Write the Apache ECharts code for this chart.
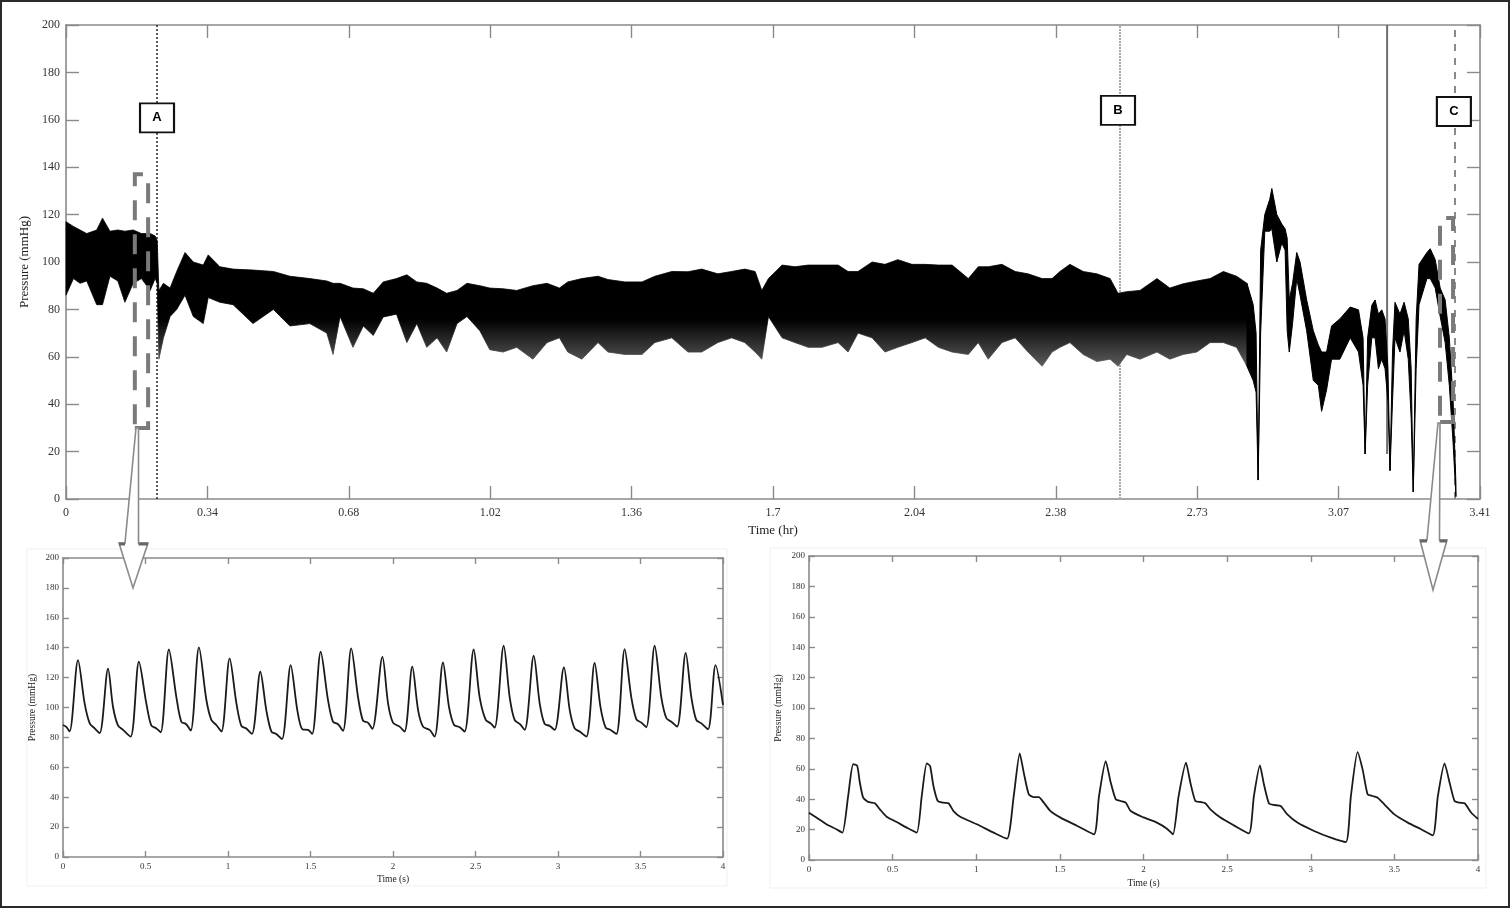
<!DOCTYPE html>
<html><head><meta charset="utf-8">
<script src="https://cdn.jsdelivr.net/npm/echarts@6/dist/echarts.min.js"></script>
<style>html,body{margin:0;padding:0;background:#fff}#c{width:1511px;height:909px}</style>
</head><body><div id="c"></div>
<script>
// ---------- DATA ----------
const HR_PER_TICK = 0.341; // top axis: hours per tick step
const topXLabels = ['0','0.34','0.68','1.02','1.36','1.7','2.04','2.38','2.73','3.07','3.41'];

// Top trace envelope (hours, upper edge, lower edge in mmHg)
const topTime = [0.000,0.018,0.034,0.050,0.074,0.088,0.106,0.125,0.142,0.162,0.182,0.203,0.215,0.220,0.224,0.235,0.251,0.267,0.287,0.307,0.331,0.343,0.371,0.403,0.451,0.500,0.540,0.588,0.629,0.644,0.661,0.692,0.717,0.741,0.765,0.797,0.822,0.846,0.870,0.895,0.918,0.943,0.967,0.998,1.022,1.054,1.087,1.126,1.160,1.190,1.210,1.244,1.283,1.307,1.348,1.389,1.420,1.461,1.500,1.533,1.572,1.605,1.637,1.662,1.678,1.694,1.727,1.758,1.790,1.823,1.862,1.886,1.910,1.944,1.975,2.006,2.040,2.072,2.104,2.137,2.176,2.200,2.224,2.257,2.289,2.320,2.354,2.378,2.397,2.421,2.453,2.486,2.518,2.537,2.558,2.590,2.631,2.662,2.694,2.727,2.759,2.791,2.823,2.848,2.863,2.870,2.875,2.881,2.891,2.903,2.908,2.920,2.932,2.940,2.945,2.950,2.958,2.968,2.976,2.992,3.008,3.020,3.028,3.040,3.052,3.072,3.097,3.117,3.128,3.133,3.139,3.149,3.157,3.165,3.173,3.181,3.188,3.193,3.199,3.205,3.217,3.227,3.237,3.244,3.249,3.256,3.263,3.282,3.290,3.302,3.314,3.326,3.336,3.345,3.352];
const topHigh = [117,115,113.5,112,113.5,118.5,113,113.5,113,113.5,112,112,111,109,88,91,89,96,104,100,98.7,103,98,97,96.6,96,94,93,92,91,91,89,88.7,86.8,91.6,93,94.6,91.6,91,89,86.8,88,91,90,89,88.7,88,90,91,89,91.6,93,94,92.6,91.6,91.6,94,96,95.9,97,95,96,97,96,88,93,98.7,98,98.7,98.7,98.7,96,96,100,99,101,99,99,98.7,98.7,93,98,98,99,96,95,93,93,96,99,96,95,93,86.8,87.5,88,93,89,90.8,92,93,96,94,91,82,70,8,105,120,126.5,131,120,116,114,110,84,91,104,100,84,71,65,62,62,73,76,81,79.8,68,19,68,81.7,84,78,79.8,76,55,12,62,83,78,83,76,55,3,76,99,104,105.6,101,89,84,68,42,6];
const topLow = [86,93,91,92,82,82,94,92,83,91,93,88,93,91,59,68,77,80,86,77,74,85,83,82,74,80,73,74,70,61,77,64,73,69,76.8,78,66,74,64,68,62,74,77,71,63,62,64,59,66,68,62,59,66,62,61,61,66,68,62,62,66,68,66,62,59,77,68,66,64,64,66,62,70,68,62,64,66,68,64,62,61,66,59,66,68,62,56,62,64,66,61,58,59,56,61,59,62,59,61,62,66,66,64,56,50,45,8,70,113,113,114,100,108,105,71,62,74,93,86,71,50,48,37,46,59,59,68,62,48,19,48,68,68,55,59,55,41,12,41,68,62,71,59,34,3,55,82,93,93,89,77,66,48,24,1];

// Isolated artifact spike (hours, from/to mmHg)
const artifactTime = 3.186;
const artifactRange = [200, 19];

// Event markers (hours)
const eventNames = ['A','B','C'];
const eventTimes = [0.2195, 2.539, 3.350];
const eventLabelY = [160.8, 164, 163.5];
const eventLabelT = [0.2195, 2.537, 3.347];

// Dashed selection windows [t0, t1, pLow, pHigh]
const windowA = [0.166, 0.198, 30, 137];
const windowC = [3.3135, 3.345, 32.5, 118.6];

// Lower-left inset (seconds, mmHg)
const leftTime = [0,0.02,0.04,0.091,0.131,0.162,0.192,0.222,0.273,0.303,0.333,0.364,0.41,0.46,0.505,0.535,0.566,0.592,0.642,0.687,0.717,0.747,0.774,0.824,0.869,0.899,0.929,0.96,1.01,1.051,1.081,1.111,1.145,1.196,1.232,1.263,1.293,1.327,1.38,1.42,1.451,1.485,1.51,1.562,1.606,1.636,1.667,1.697,1.747,1.788,1.818,1.848,1.875,1.936,1.97,2.0,2.04,2.07,2.117,2.152,2.182,2.222,2.252,2.303,2.339,2.37,2.404,2.434,2.489,2.525,2.562,2.592,2.616,2.671,2.707,2.737,2.768,2.798,2.853,2.889,2.919,2.949,2.98,3.036,3.071,3.101,3.131,3.172,3.222,3.257,3.289,3.319,3.354,3.404,3.444,3.475,3.505,3.535,3.586,3.626,3.657,3.687,3.722,3.774,3.808,3.838,3.869,3.909,3.955,4.0];
const leftVal = [88.3,87,84,131.7,102.8,89.4,86,82.8,126,100.5,88,85,80.5,130.6,102.8,88,86,83.4,138.8,107,90.5,88.8,84.5,140.2,105,91.7,88.3,83.9,132.8,102.8,87.7,85.9,82.3,123.9,98.3,83.9,82.3,78.8,128.4,98.3,85.4,85,82.3,137.3,105,90.5,88.8,84.3,139.5,107,91.2,89.9,85.7,133.9,102.8,89.9,87.2,83.9,127.3,98.3,87.2,85,80.5,130.1,100.6,88.3,86.8,83.9,138.8,107,91.7,89.4,86.5,141.3,107,91.7,89,85,134.6,102.8,89,87.7,85,126.8,98.3,86,83.9,80.5,129.9,100.6,86.5,85,82.3,139,107,92.1,89.9,86.8,141.3,107,92.8,90.5,87.2,136.6,107,91.7,89.4,85.4,128.4,101.7];

// Lower-right inset (seconds, mmHg)
const rightTime = [0,0.044,0.104,0.164,0.2,0.234,0.264,0.288,0.304,0.324,0.354,0.394,0.424,0.464,0.524,0.584,0.644,0.674,0.704,0.724,0.744,0.77,0.804,0.834,0.864,0.904,1.004,1.104,1.184,1.224,1.26,1.284,1.314,1.344,1.374,1.404,1.444,1.504,1.604,1.704,1.734,1.774,1.804,1.834,1.864,1.894,1.924,2.0,2.08,2.14,2.176,2.21,2.254,2.28,2.31,2.34,2.37,2.4,2.46,2.54,2.63,2.66,2.696,2.72,2.75,2.78,2.82,2.86,2.92,3.02,3.12,3.21,3.24,3.28,3.31,3.34,3.37,3.4,3.44,3.5,3.58,3.66,3.73,3.76,3.8,3.83,3.86,3.89,3.92,3.96,4.0];
const rightVal = [31.1,27.9,23.5,20.2,18,42,63,62,51,41,38.2,37.3,33.3,28.5,25,21.3,18,42,63.6,61.8,48.7,38.8,37.7,37.3,32.2,28.5,23.5,18,14,42,70.2,57.5,43.2,41.4,41.4,37.7,32.2,27.9,22.4,16.9,42,65.1,51,40,38.8,37.7,32.2,28,24.6,20.6,16.9,42,64,51,38.8,38.2,37.3,33.3,27.9,22.8,17.5,42,62.3,49.8,37.3,36.2,35.5,30,24.6,19.1,14.7,11.8,42,71,59.6,43.2,42.1,41,36.6,30,24.6,20.2,16.2,42,63.6,51,38.8,37.7,37.3,31.1,27];

const yTicks = [0,200,20];
const insetXTicks = [0,4,0.5];

// ---------- CHART ----------
const SERIF = "'Liberation Serif','DejaVu Serif',serif";
const SANS = "'Liberation Sans',Arial,sans-serif";
const AX = '#8a8a8a';
const chart = echarts.init(document.getElementById('c'), null, {renderer:'canvas'});

function axisPair(kind, gridIndex, min, max, interval, tickLen, fontSize, labelMargin, name, nameGap, nameSize, formatter) {
  const common = {gridIndex, type:'value', min, max, interval,
    splitLine:{show:false},
    axisLine:{show:true, onZero:false, lineStyle:{color:AX, width:1.6}},
    axisTick:{show:true, inside:true, length:tickLen, lineStyle:{color:AX, width:1.4}}};
  const main = Object.assign({}, common, {
    position: kind==='x' ? 'bottom' : 'left',
    axisLabel:{show:true, color:'#333', fontFamily:SERIF, fontSize, margin:labelMargin, formatter},
    name, nameLocation:'middle', nameGap,
    nameTextStyle:{color:'#222', fontFamily:SERIF, fontSize:nameSize}
  });
  const mirror = Object.assign({}, common, {
    position: kind==='x' ? 'top' : 'right', axisLabel:{show:false}
  });
  return [main, mirror];
}

const topX = axisPair('x',0,0,10,1,13,12,8,'Time (hr)',19,13,(v)=>topXLabels[Math.round(v)]);
const topY = axisPair('y',0,yTicks[0],yTicks[1],yTicks[2],13,12,6,'Pressure (mmHg)',33,13);
const lX = axisPair('x',1,insetXTicks[0],insetXTicks[1],insetXTicks[2],6,9,5,'Time (s)',17,9.5);
const lY = axisPair('y',1,yTicks[0],yTicks[1],yTicks[2],6,9,4,'Pressure (mmHg)',26,9.5);
const rX = axisPair('x',2,insetXTicks[0],insetXTicks[1],insetXTicks[2],6,9,5,'Time (s)',18,9.5);
const rY = axisPair('y',2,yTicks[0],yTicks[1],yTicks[2],6,9,4,'Pressure (mmHg)',26,9.5);

const bandData = topTime.map((t,i)=>[t/HR_PER_TICK, topHigh[i], topLow[i]]);
// index where the wide noisy band ends and the narrow, unstable part begins
const splitIdx = topTime.findIndex(t => t >= 2.848);

const dashStyle = {color:'rgba(0,0,0,0)', borderColor:'#7a7a7a', borderWidth:4, borderType:[20,14]};

function bandPolygon(api, from, to) {
  const pts = [];
  for (let i = from; i <= to; i++) pts.push(api.coord([bandData[i][0], bandData[i][1]]));
  for (let i = to; i >= from; i--) pts.push(api.coord([bandData[i][0], bandData[i][2]]));
  return pts;
}

const option = {
  animation:false,
  backgroundColor:'#fff',
  grid:[
    {left:66, top:25, width:1414, height:474},
    {left:63, top:558, width:660, height:299},
    {left:809, top:556, width:669, height:304}
  ],
  xAxis:[topX[0], topX[1], lX[0], lX[1], rX[0], rX[1]],
  yAxis:[topY[0], topY[1], lY[0], lY[1], rY[0], rY[1]],
  series:[
    {
      type:'custom', name:'trace', xAxisIndex:0, yAxisIndex:0, data:bandData,
      encode:{x:0, y:[1,2]}, silent:true, z:3,
      renderItem:function(params, api){
        if (params.dataIndex !== 0) return null;
        const yTop = api.coord([0, 76])[1];
        const yBot = api.coord([0, 56])[1];
        const grad = new echarts.graphic.LinearGradient(0, yTop, 0, yBot, [
          {offset:0, color:'#000'},{offset:1, color:'#5c5c5c'}], true);
        return {type:'group', children:[
          {type:'polygon', shape:{points:bandPolygon(api, 0, splitIdx)}, style:{fill:grad, stroke:grad, lineWidth:0.8}},
          {type:'polygon', shape:{points:bandPolygon(api, splitIdx, bandData.length-1)}, style:{fill:'#000', stroke:'#000', lineWidth:1}}
        ]};
      }
    },
    {
      type:'line', name:'artifact', xAxisIndex:0, yAxisIndex:0,
      data:artifactRange.map(v=>[artifactTime/HR_PER_TICK, v]),
      symbol:'none', lineStyle:{color:'#6e6e6e', width:2}, z:2, silent:true,
      markLine:{
        silent:true, symbol:['none','none'], label:{show:false}, z:1,
        data:[
          {xAxis:eventTimes[0]/HR_PER_TICK, lineStyle:{type:[2,2], color:'#333', width:1.6}},
          {xAxis:eventTimes[1]/HR_PER_TICK, lineStyle:{type:[2,1], color:'#a8a8a8', width:2}},
          {xAxis:eventTimes[2]/HR_PER_TICK, lineStyle:{type:[7,7], color:'#8a8a8a', width:2}}
        ]
      },
      markArea:{
        silent:true, z:4,
        data:[
          [{coord:[windowA[0]/HR_PER_TICK, windowA[2]], itemStyle:dashStyle},{coord:[windowA[1]/HR_PER_TICK, windowA[3]]}],
          [{coord:[windowC[0]/HR_PER_TICK, windowC[2]], itemStyle:dashStyle},{coord:[windowC[1]/HR_PER_TICK, windowC[3]]}]
        ]
      },
      markPoint:{
        silent:true, z:10, symbol:'rect', symbolSize:[34,29],
        itemStyle:{color:'#fff', borderColor:'#111', borderWidth:2},
        label:{show:true, position:'inside', formatter:'{b}', color:'#000', fontFamily:SANS, fontWeight:'bold', fontSize:13},
        data:eventNames.map((n,i)=>({name:n, coord:[eventLabelT[i]/HR_PER_TICK, eventLabelY[i]]}))
      }
    },
    {
      type:'line', name:'left', xAxisIndex:2, yAxisIndex:2,
      data:leftTime.map((t,i)=>[t, leftVal[i]]), symbol:'none', smooth:0.3,
      lineStyle:{color:'#1a1a1a', width:1.8}, silent:true
    },
    {
      type:'line', name:'right', xAxisIndex:4, yAxisIndex:4,
      data:rightTime.map((t,i)=>[t, rightVal[i]]), symbol:'none', smooth:0.2,
      lineStyle:{color:'#1a1a1a', width:1.8}, silent:true
    }
  ],
  graphic:[
    {type:'rect', shape:{x:1,y:1,width:1508,height:906}, style:{fill:'none', stroke:'#2a2a2a', lineWidth:2}, z:100},
    {type:'rect', shape:{x:27,y:549,width:700,height:337}, style:{fill:'none', stroke:'#efefef', lineWidth:1}, z:-1},
    {type:'rect', shape:{x:770,y:548,width:716,height:340}, style:{fill:'none', stroke:'#efefef', lineWidth:1}, z:-1},
    {type:'polygon', shape:{points:[[136,428],[125,543],[119,543],[133,588],[148,543],[138.5,543],[138.5,428]]},
      style:{fill:'#fff', stroke:'#8a8a8a', lineWidth:1.6}, z:50},
    {type:'polyline', shape:{points:[[119,544],[125,544]]}, style:{stroke:'#666', lineWidth:3}, z:51},
    {type:'polyline', shape:{points:[[138.5,544],[148,544]]}, style:{stroke:'#666', lineWidth:3}, z:51},
    {type:'polygon', shape:{points:[[1438,423],[1427,540],[1420,540],[1433,590],[1447,540],[1439.5,540],[1440,423]]},
      style:{fill:'#fff', stroke:'#8a8a8a', lineWidth:1.6}, z:50},
    {type:'polyline', shape:{points:[[1420,541],[1427,541]]}, style:{stroke:'#666', lineWidth:3}, z:51},
    {type:'polyline', shape:{points:[[1439.5,541],[1447,541]]}, style:{stroke:'#666', lineWidth:3}, z:51}
  ]
};
chart.setOption(option);
</script>
</body></html>
